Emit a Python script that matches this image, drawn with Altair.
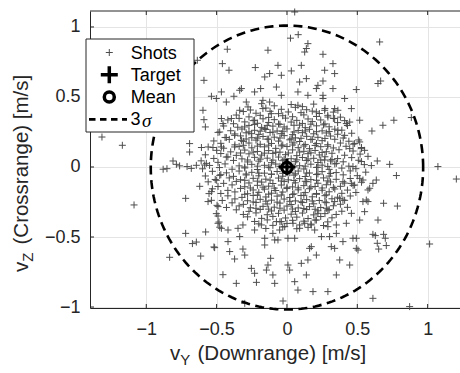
import altair as alt
import numpy as np
import pandas as pd

# Shot velocities: (v_Y downrange, v_Z crossrange) in m/s
outer_shots = [
    (-1.315, 0.214), (-1.17, 0.155), (-1.087, -0.271), (-0.834, -0.645),
    (-0.88, -0.016), (-0.853, -0.012), (-0.81, 0.043), (-0.786, 0.019), (-0.763, 0.008),
    (-0.71, 0.003), (-0.68, -0.01), (-0.644, 0.012), (-0.585, 0.014), (-0.573, 0.026),
    (-0.72, -0.224), (-0.72, -0.474), (-0.62, -0.138), (-0.672, -0.547), (-0.644, -0.536),
    (-0.578, -0.464), (-0.519, -0.571), (-0.613, -0.636), (-0.455, -0.769),
    (-0.554, -0.19), (-0.537, -0.238), (-0.502, -0.333), (-0.49, -0.35), (-0.478, -0.43),
    (-0.497, -0.274), (-0.483, -0.393), (-0.537, -0.176), (-0.561, -0.247), (-0.49, -0.283),
    (-0.49, -0.402), (-0.466, -0.438), (-0.419, -0.45), (-0.348, -0.438), (-0.313, -0.414),
    (-0.336, -0.497), (-0.419, -0.533), (-0.514, -0.576), (-0.407, -0.604), (-0.313, -0.586),
    (-0.3, -0.629), (-0.372, -0.657), (-0.36, -0.831), (-0.253, -0.724), (-0.23, -0.759),
    (-0.217, -0.824), (-0.135, -0.7), (-0.116, -0.652), (-0.146, -0.736), (-0.1, -0.771),
    (-0.087, -0.831), (-0.3, -0.974), (-0.158, -0.509), (-0.158, -0.557), (-0.23, -0.45),
    (-0.182, -0.414), (-0.1, -0.474), (-0.087, -0.521), (-0.028, -0.957), (-0.502, -0.095),
    (-0.478, -0.06),
    (-0.075, -0.39), (-0.052, -0.45), (0.007, -0.509), (0.055, -0.509), (-0.064, -0.521),
    (0.173, -0.569), (0.161, -0.581), (0.209, -0.629), (0.149, -0.664), (0.102, -0.688),
    (0.007, -0.7), (0.019, -0.736), (0.138, -0.771), (0.055, -0.819), (0.078, -0.879),
    (0.185, -0.89), (0.291, -0.89), (0.351, -0.771), (0.375, -0.664), (0.446, -0.7),
    (0.339, -0.581), (0.315, -0.569), (0.398, -0.533), (0.469, -0.509), (0.493, -0.509),
    (0.493, -0.581), (0.505, -0.593), (0.245, -0.497), (0.303, -0.497), (0.351, -0.474),
    (0.197, -0.45), (0.173, -0.414), (0.291, -0.426), (0.351, -0.414), (0.422, -0.402),
    (0.517, -0.379), (0.458, -0.331), (0.552, -0.319), (0.54, -0.247), (0.375, -0.224),
    (0.398, -0.236), (0.339, -0.247), (0.481, -0.129), (0.458, -0.117), (0.398, -0.105),
    (0.517, -0.081), (0.54, -0.093), (0.469, 0.003), (0.529, 0.039), (0.351, 0.026),
    (0.268, 0.05), (0.291, -0.307), (0.22, -0.331), (0.209, -0.379), (0.126, -0.402),
    (0.09, -0.438), (0.043, -0.402), (-0.016, -0.426), (-0.04, -0.39),
    (1.073, 0.003), (1.204, -0.086), (1.014, -0.55), (0.611, -0.938), (0.872, -0.997),
    (0.73, 0.019), (0.778, -0.061), (0.6, 0.01), (0.642, 0.043), (0.635, -0.093),
    (0.611, -0.117), (0.588, -0.152), (0.576, -0.164), (0.564, -0.236), (0.576, -0.247),
    (0.687, -0.259), (0.785, -0.279), (0.647, -0.379), (0.611, -0.481), (0.628, -0.49),
    (0.687, -0.481), (0.699, -0.509), (0.642, -0.545), (0.706, -0.561), (0.652, -0.586),
    (0.659, 0.893), (0.647, 0.596), (0.666, 0.614), (0.884, 0.353), (0.76, 0.334),
    (0.682, 0.298), (0.604, 0.257), (0.552, 0.119), (0.576, 0.076),
    (0.055, 1.107), (0.025, 0.92), (0.08, 0.945), (0.149, 0.881), (0.138, 0.846),
    (0.126, 0.821), (0.256, 0.805), (0.102, 0.726), (0.327, 0.738), (0.268, 0.691),
    (0.339, 0.667), (0.031, 0.686), (-0.04, 0.655), (0.138, 0.631), (0.256, 0.614),
    (0.09, 0.607), (0.22, 0.583), (0.209, 0.56), (0.327, 0.56), (0.493, 0.553),
    (0.41, 0.489), (0.458, 0.417), (0.362, 0.405), (0.339, 0.417), (0.517, 0.334),
    (0.268, 0.405), (0.256, 0.512), (0.256, 0.489), (0.149, 0.512), (0.078, 0.536),
    (0.078, 0.441), (0.209, 0.393), (0.291, 0.357), (0.339, 0.346), (0.422, 0.31),
    (0.446, 0.321), (0.517, 0.179), (0.529, 0.131), (0.481, 0.167), (0.41, 0.226),
    (0.362, 0.262), (0.446, 0.131), (-0.04, 0.512), (-0.075, 0.571), (-0.064, 0.726),
    (-0.637, 0.762), (-0.59, 0.619), (-0.424, 0.841), (-0.459, 0.738), (-0.412, 0.691),
    (-0.225, 0.71), (-0.135, 0.834), (-0.158, 0.643), (-0.123, 0.667), (-0.324, 0.56),
    (-0.336, 0.548), (-0.466, 0.536), (-0.537, 0.505), (-0.502, 0.489), (-0.431, 0.464),
    (-0.377, 0.505), (-0.23, 0.536), (-0.187, 0.56), (-0.171, 0.476), (-0.123, 0.464),
    (-0.289, 0.464), (-0.597, 0.405), (-0.59, 0.338), (-0.58, 0.286), (-0.466, 0.346),
    (-0.455, 0.31), (-0.395, 0.346), (-0.336, 0.405), (-0.277, 0.429), (-0.171, 0.417),
    (-0.111, 0.381), (-0.478, 0.25), (-0.431, 0.21), (-0.372, 0.226), (-0.692, 0.167),
    (-0.692, 0.107), (-0.608, 0.139), (-0.526, 0.139), (-0.466, 0.143), (-0.431, 0.071),
    (-0.372, 0.143), (-0.324, 0.19), (-0.253, 0.238), (-0.301, 0.286), (-0.23, 0.334),
    (-0.158, 0.274),
]

core_shots = [
    (-0.18, 0.452), (-0.09, 0.437), (0.03, 0.446), (0.11, 0.431), (0.19, 0.449),
    (-0.26, 0.407), (-0.15, 0.421), (-0.04, 0.412), (0.06, 0.426), (0.14, 0.409), (0.27, 0.418),
    (-0.31, 0.396), (-0.22, 0.384), (-0.12, 0.398), (-0.06, 0.381), (0.01, 0.393), (0.1, 0.388),
    (0.18, 0.399), (0.23, 0.382), (0.33, 0.392),
    (-0.36, 0.371), (-0.27, 0.358), (-0.19, 0.369), (-0.13, 0.354), (-0.03, 0.366), (0.04, 0.359),
    (0.12, 0.372), (0.21, 0.361), (0.29, 0.369), (0.38, 0.356),
    (-0.42, 0.336), (-0.34, 0.347), (-0.24, 0.331), (-0.17, 0.344), (-0.09, 0.338), (-0.01, 0.349),
    (0.07, 0.333), (0.15, 0.343), (0.24, 0.336), (0.33, 0.347), (0.41, 0.331),
    (-0.38, 0.309), (-0.3, 0.322), (-0.21, 0.312), (-0.13, 0.318), (-0.06, 0.307), (0.03, 0.321),
    (0.11, 0.311), (0.18, 0.324), (0.27, 0.308), (0.36, 0.317),
    (-0.45, 0.293), (-0.35, 0.284), (-0.27, 0.297), (-0.18, 0.283), (-0.1, 0.292), (-0.02, 0.286),
    (0.05, 0.298), (0.13, 0.281), (0.21, 0.294), (0.3, 0.287), (0.43, 0.296),
    (-0.4, 0.259), (-0.32, 0.271), (-0.23, 0.262), (-0.15, 0.268), (-0.07, 0.257), (0.0, 0.272),
    (0.08, 0.261), (0.16, 0.269), (0.25, 0.258), (0.34, 0.27), (0.39, 0.263),
    (-0.49, 0.247), (-0.37, 0.236), (-0.29, 0.244), (-0.2, 0.233), (-0.12, 0.246), (-0.04, 0.238),
    (0.04, 0.231), (0.11, 0.245), (0.19, 0.237), (0.28, 0.243), (0.36, 0.234), (0.46, 0.241),
    (-0.44, 0.211), (-0.33, 0.222), (-0.25, 0.209), (-0.17, 0.218), (-0.09, 0.213), (-0.02, 0.224),
    (0.06, 0.208), (0.14, 0.219), (0.22, 0.212), (0.31, 0.221), (0.4, 0.207),
    (-0.52, 0.186), (-0.41, 0.197), (-0.31, 0.183), (-0.22, 0.192), (-0.14, 0.199), (-0.06, 0.185),
    (0.02, 0.194), (0.09, 0.182), (0.17, 0.196), (0.25, 0.188), (0.34, 0.198), (0.44, 0.184),
    (0.51, 0.193),
    (-0.47, 0.169), (-0.37, 0.158), (-0.27, 0.171), (-0.19, 0.162), (-0.11, 0.168), (-0.03, 0.157),
    (0.05, 0.172), (0.13, 0.161), (0.21, 0.167), (0.29, 0.159), (0.38, 0.171), (0.47, 0.163),
    (-0.56, 0.143), (-0.45, 0.134), (-0.34, 0.147), (-0.25, 0.137), (-0.16, 0.144), (-0.08, 0.133),
    (0.0, 0.146), (0.08, 0.138), (0.16, 0.131), (0.24, 0.145), (0.33, 0.136), (0.42, 0.148),
    (0.53, 0.139),
    (-0.5, 0.119), (-0.4, 0.108), (-0.3, 0.121), (-0.21, 0.111), (-0.13, 0.117), (-0.05, 0.106),
    (0.04, 0.122), (0.12, 0.112), (0.2, 0.118), (0.28, 0.109), (0.37, 0.123), (0.47, 0.114),
    (-0.58, 0.087), (-0.47, 0.096), (-0.36, 0.083), (-0.27, 0.094), (-0.18, 0.085), (-0.1, 0.097),
    (-0.01, 0.088), (0.07, 0.081), (0.15, 0.095), (0.23, 0.086), (0.32, 0.098), (0.41, 0.084),
    (0.52, 0.092),
    (-0.52, 0.061), (-0.42, 0.072), (-0.32, 0.058), (-0.23, 0.069), (-0.14, 0.063), (-0.06, 0.071),
    (0.03, 0.059), (0.11, 0.068), (0.19, 0.062), (0.27, 0.073), (0.36, 0.06), (0.46, 0.067),
    (-0.61, 0.044), (-0.49, 0.033), (-0.38, 0.047), (-0.28, 0.036), (-0.2, 0.042), (-0.11, 0.031),
    (-0.03, 0.045), (0.06, 0.038), (0.14, 0.046), (0.22, 0.032), (0.31, 0.043), (0.4, 0.037),
    (0.51, 0.048),
    (-0.55, 0.011), (-0.44, 0.022), (-0.34, 0.008), (-0.25, 0.019), (-0.16, 0.012), (-0.08, 0.021),
    (0.09, 0.009), (0.17, 0.02), (0.25, 0.013), (0.34, 0.022), (0.44, 0.006), (0.55, 0.017),
    (-0.6, -0.013), (-0.48, -0.004), (-0.39, -0.016), (-0.3, -0.007), (-0.21, -0.018), (-0.12, -0.005),
    (0.12, -0.014), (0.21, -0.003), (0.3, -0.017), (0.39, -0.008), (0.49, -0.012),
    (-0.53, -0.031), (-0.43, -0.042), (-0.34, -0.029), (-0.25, -0.038), (-0.16, -0.044), (-0.07, -0.032),
    (0.02, -0.041), (0.08, -0.029), (0.16, -0.043), (0.25, -0.033), (0.35, -0.04), (0.45, -0.028),
    (0.56, -0.037),
    (-0.58, -0.064), (-0.47, -0.055), (-0.38, -0.067), (-0.29, -0.057), (-0.2, -0.063), (-0.11, -0.052),
    (-0.03, -0.066), (0.05, -0.058), (0.13, -0.068), (0.21, -0.054), (0.3, -0.065), (0.4, -0.056),
    (0.5, -0.062),
    (-0.51, -0.089), (-0.41, -0.078), (-0.33, -0.091), (-0.24, -0.081), (-0.15, -0.087), (-0.06, -0.079),
    (0.01, -0.092), (0.09, -0.083), (0.17, -0.09), (0.26, -0.078), (0.35, -0.088), (0.45, -0.082),
    (-0.56, -0.106), (-0.45, -0.117), (-0.36, -0.103), (-0.27, -0.114), (-0.18, -0.108), (-0.1, -0.118),
    (-0.02, -0.104), (0.06, -0.113), (0.14, -0.105), (0.22, -0.116), (0.31, -0.107), (0.41, -0.115),
    (0.53, -0.109),
    (-0.49, -0.139), (-0.39, -0.128), (-0.3, -0.141), (-0.21, -0.131), (-0.13, -0.137), (-0.04, -0.129),
    (0.04, -0.142), (0.12, -0.133), (0.2, -0.139), (0.28, -0.127), (0.38, -0.138), (0.47, -0.131),
    (-0.53, -0.156), (-0.42, -0.167), (-0.33, -0.153), (-0.24, -0.164), (-0.16, -0.158), (-0.08, -0.168),
    (0.0, -0.154), (0.08, -0.163), (0.16, -0.155), (0.25, -0.166), (0.34, -0.157), (0.43, -0.165),
    (-0.47, -0.189), (-0.37, -0.178), (-0.28, -0.191), (-0.2, -0.181), (-0.11, -0.187), (-0.03, -0.179),
    (0.05, -0.192), (0.13, -0.183), (0.21, -0.189), (0.3, -0.177), (0.39, -0.188), (0.49, -0.182),
    (-0.42, -0.206), (-0.32, -0.217), (-0.24, -0.203), (-0.15, -0.214), (-0.07, -0.208), (0.02, -0.218),
    (0.1, -0.204), (0.18, -0.213), (0.27, -0.205), (0.36, -0.216), (0.45, -0.207),
    (-0.46, -0.239), (-0.37, -0.228), (-0.28, -0.241), (-0.19, -0.231), (-0.11, -0.237), (-0.02, -0.229),
    (0.06, -0.242), (0.14, -0.233), (0.23, -0.239), (0.32, -0.227), (0.41, -0.238),
    (-0.39, -0.256), (-0.31, -0.267), (-0.22, -0.253), (-0.14, -0.264), (-0.05, -0.258), (0.03, -0.268),
    (0.11, -0.254), (0.19, -0.263), (0.28, -0.255), (0.38, -0.266),
    (-0.43, -0.289), (-0.34, -0.278), (-0.26, -0.291), (-0.17, -0.281), (-0.09, -0.287), (0.0, -0.279),
    (0.08, -0.292), (0.16, -0.283), (0.24, -0.289), (0.33, -0.277), (0.43, -0.288),
    (-0.36, -0.306), (-0.27, -0.317), (-0.19, -0.303), (-0.11, -0.314), (-0.02, -0.308), (0.06, -0.318),
    (0.14, -0.304), (0.22, -0.313), (0.3, -0.305), (0.39, -0.316),
    (-0.31, -0.339), (-0.22, -0.328), (-0.14, -0.341), (-0.06, -0.331), (0.03, -0.337), (0.11, -0.329),
    (0.19, -0.342), (0.27, -0.333), (0.35, -0.339),
    (-0.28, -0.356), (-0.18, -0.367), (-0.1, -0.353), (-0.01, -0.364), (0.07, -0.358), (0.15, -0.368),
    (0.24, -0.354), (0.32, -0.363),
    (-0.23, -0.389), (-0.14, -0.378), (-0.05, -0.391), (0.04, -0.381), (0.12, -0.387), (0.2, -0.379),
    (0.29, -0.392),
    (-0.2, -0.406), (-0.1, -0.417), (0.0, -0.403), (0.09, -0.414), (0.17, -0.408), (0.26, -0.418),
    (-0.15, -0.439), (-0.03, -0.428), (0.07, -0.441), (0.15, -0.431),
]

center_shots = [
    (-0.23, 0.303), (-0.14, 0.297), (-0.05, 0.305), (0.09, 0.299), (0.17, 0.306), (0.26, 0.301),
    (-0.27, 0.251), (-0.19, 0.256), (-0.1, 0.249), (-0.03, 0.255), (0.05, 0.25), (0.13, 0.257),
    (0.21, 0.252), (0.3, 0.254),
    (-0.29, 0.2), (-0.21, 0.206), (-0.13, 0.199), (-0.05, 0.207), (0.03, 0.201), (0.1, 0.205),
    (0.18, 0.198), (0.27, 0.204),
    (-0.31, 0.155), (-0.21, 0.149), (-0.13, 0.156), (-0.04, 0.151), (0.04, 0.157), (0.12, 0.15),
    (0.2, 0.154), (0.29, 0.148),
    (-0.33, 0.1), (-0.24, 0.106), (-0.16, 0.099), (-0.08, 0.105), (0.01, 0.1), (0.09, 0.107),
    (0.17, 0.101), (0.25, 0.104),
    (-0.28, 0.05), (-0.19, 0.056), (-0.1, 0.049), (-0.02, 0.055), (0.07, 0.051), (0.15, 0.057),
    (0.24, 0.05), (0.32, 0.054),
    (-0.3, 0.0), (-0.21, 0.006), (-0.13, -0.001), (-0.05, 0.005), (0.05, 0.001), (0.13, 0.006),
    (0.22, -0.002), (0.29, 0.004),
    (-0.29, -0.05), (-0.2, -0.044), (-0.11, -0.051), (-0.03, -0.045), (0.06, -0.049), (0.14, -0.043),
    (0.22, -0.05), (0.31, -0.046),
    (-0.3, -0.095), (-0.21, -0.101), (-0.12, -0.094), (-0.04, -0.1), (0.05, -0.096), (0.13, -0.102),
    (0.21, -0.095), (0.29, -0.099),
    (-0.26, -0.15), (-0.17, -0.144), (-0.09, -0.151), (0.0, -0.145), (0.08, -0.149), (0.17, -0.143),
    (0.25, -0.15), (0.33, -0.146),
    (-0.3, -0.195), (-0.21, -0.201), (-0.13, -0.194), (-0.04, -0.2), (0.04, -0.196), (0.12, -0.202),
    (0.21, -0.195), (0.28, -0.199),
    (-0.24, -0.25), (-0.15, -0.244), (-0.07, -0.251), (0.02, -0.245), (0.1, -0.249), (0.18, -0.243),
    (0.27, -0.25),
    (-0.22, -0.295), (-0.13, -0.301), (-0.05, -0.294), (0.04, -0.3), (0.12, -0.296), (0.2, -0.302),
    (0.28, -0.295),
]

target = (0.0, 0.0)
mean = (0.0, -0.004)
sigma_y = 0.3227
sigma_z = 0.338

x_ticks = [-1, -0.5, 0, 0.5, 1]
y_ticks = [-1, -0.5, 0, 0.5, 1]
x_domain = [-1.4, 1.23]
y_domain = [-1.007, 1.114]

W, H = 370, 297
FONT = "Liberation Sans"
INK = "#262626"

shots = pd.DataFrame(outer_shots + core_shots + center_shots, columns=["vy", "vz"])

theta = np.linspace(0.0, 2.0 * np.pi, 241)
ellipse = pd.DataFrame({
    "vy": mean[0] + 3 * sigma_y * np.cos(theta),
    "vz": mean[1] + 3 * sigma_z * np.sin(theta),
    "i": np.arange(theta.size),
})

x_scale = alt.Scale(domain=x_domain, nice=False, zero=False)
y_scale = alt.Scale(domain=y_domain, nice=False, zero=False)
axis_common = dict(
    title=None, ticks=False, grid=True, gridColor="#e4e4e4", gridWidth=1,
    domain=True, domainColor=INK, domainWidth=1,
    labelFont=FONT, labelFontSize=18, labelColor=INK,
    labelExpr="replace(toString(datum.value), '-', '\u2212')",
)
x_axis = alt.Axis(values=x_ticks, labelPadding=12, **axis_common)
y_axis = alt.Axis(values=y_ticks, labelPadding=10, **axis_common)


def X(field):
    return alt.X(field, type="quantitative", scale=x_scale, axis=x_axis)


def Y(field):
    return alt.Y(field, type="quantitative", scale=y_scale, axis=y_axis)


PLUS = "M-1,0L1,0M0,-1L0,1"
one = pd.DataFrame({"k": [0]})

shots_layer = alt.Chart(shots).mark_point(
    shape=PLUS, filled=False, size=49, color="#4d4d4d", strokeWidth=1, opacity=1
).encode(x=X("vy"), y=Y("vz"))

ellipse_layer = alt.Chart(ellipse).mark_line(
    color="black", strokeWidth=2.6, strokeDash=[9, 5.5]
).encode(x=X("vy"), y=Y("vz"), order=alt.Order("i:Q"))

target_layer = alt.Chart(pd.DataFrame([target], columns=["vy", "vz"])).mark_point(
    shape=PLUS, filled=False, size=289, color="black", strokeWidth=3.2, opacity=1
).encode(x=X("vy"), y=Y("vz"))

mean_layer = alt.Chart(pd.DataFrame([mean], columns=["vy", "vz"])).mark_point(
    shape="circle", filled=False, size=110, color="black", strokeWidth=3.2, opacity=1
).encode(x=X("vy"), y=Y("vz"))

# inward tick marks on the bottom, top and left edges, plus the top frame line
xt = pd.DataFrame({"vy": x_ticks})
yt = pd.DataFrame({"vz": y_ticks})
ticks = [
    alt.Chart(xt).mark_rule(color=INK, strokeWidth=1).encode(
        x=X("vy"), y=alt.value(H), y2=alt.value(H - 4)),
    alt.Chart(xt).mark_rule(color=INK, strokeWidth=1).encode(
        x=X("vy"), y=alt.value(0), y2=alt.value(4)),
    alt.Chart(yt).mark_rule(color=INK, strokeWidth=1).encode(
        y=Y("vz"), x=alt.value(0), x2=alt.value(4)),
    alt.Chart(one).mark_rule(color=INK, strokeWidth=1).encode(
        x=alt.value(0), x2=alt.value(W), y=alt.value(0)),
]

# legend box
lx, ly0, dy = 19.3, 41.5, 22.3
legend = [
    alt.Chart(one).mark_rect(fill="white", stroke=INK, strokeWidth=1).encode(
        x=alt.value(-4), x2=alt.value(104), y=alt.value(28), y2=alt.value(121)),
    alt.Chart(one).mark_point(shape=PLUS, filled=False, size=49, color="#4d4d4d",
                              strokeWidth=1, opacity=1).encode(
        x=alt.value(lx), y=alt.value(ly0)),
    alt.Chart(one).mark_point(shape=PLUS, filled=False, size=289, color="black",
                              strokeWidth=3.5, opacity=1).encode(
        x=alt.value(lx), y=alt.value(ly0 + dy)),
    alt.Chart(one).mark_point(shape="circle", filled=False, size=100, color="black",
                              strokeWidth=3.5, opacity=1).encode(
        x=alt.value(lx), y=alt.value(ly0 + 2 * dy)),
    alt.Chart(one).mark_rule(color="black", strokeWidth=2.6, strokeDash=[6.5, 4.5]).encode(
        x=alt.value(-1), x2=alt.value(37), y=alt.value(ly0 + 3 * dy)),
]
for i, label in enumerate(["Shots", "Target", "Mean"]):
    legend.append(
        alt.Chart(one).mark_text(text=label, align="left", baseline="middle", font=FONT,
                                 fontSize=18, color="black").encode(
            x=alt.value(40.8), y=alt.value(ly0 + i * dy + 1)))
legend.append(
    alt.Chart(one).mark_text(text="3", align="left", baseline="middle", font=FONT,
                             fontSize=18, color="black").encode(
        x=alt.value(40.5), y=alt.value(ly0 + 3 * dy + 1)))
legend.append(
    alt.Chart(one).mark_text(text="σ", align="left", baseline="middle", font="Liberation Serif",
                             fontStyle="italic", fontSize=19, color="black").encode(
        x=alt.value(52), y=alt.value(ly0 + 3 * dy + 2)))


def axis_title(sub, rest, x, y, angle):
    # "v" with a lowered subscript, then the rest of the label after a gap
    parts = [("v", 20.5, 0, 0), (sub, 15, 10.25, 5), (rest, 20.5, 27.5, 0)]
    out = []
    for txt, fs, ddx, ddy in parts:
        out.append(
            alt.Chart(one).mark_text(text=txt, align="left", baseline="alphabetic", font=FONT,
                                     fontSize=fs, color=INK, angle=angle, dx=ddx, dy=ddy).encode(
                x=alt.value(x), y=alt.value(y)))
    return out


titles = axis_title("Y", "(Downrange) [m/s]", 80, 349, 0) + \
    axis_title("Z", "(Crossrange) [m/s]", -62, 261, 270)

chart = alt.layer(
    shots_layer, ellipse_layer, target_layer, mean_layer, *ticks, *legend, *titles
).properties(
    width=W, height=H,
    autosize=alt.AutoSizeParams(type="none"),
    padding={"left": 90, "top": 11, "right": 0, "bottom": 65},
    background="white",
).configure_view(stroke="transparent")

chart.save("out.html", embed_options={"renderer": "svg", "actions": False})
